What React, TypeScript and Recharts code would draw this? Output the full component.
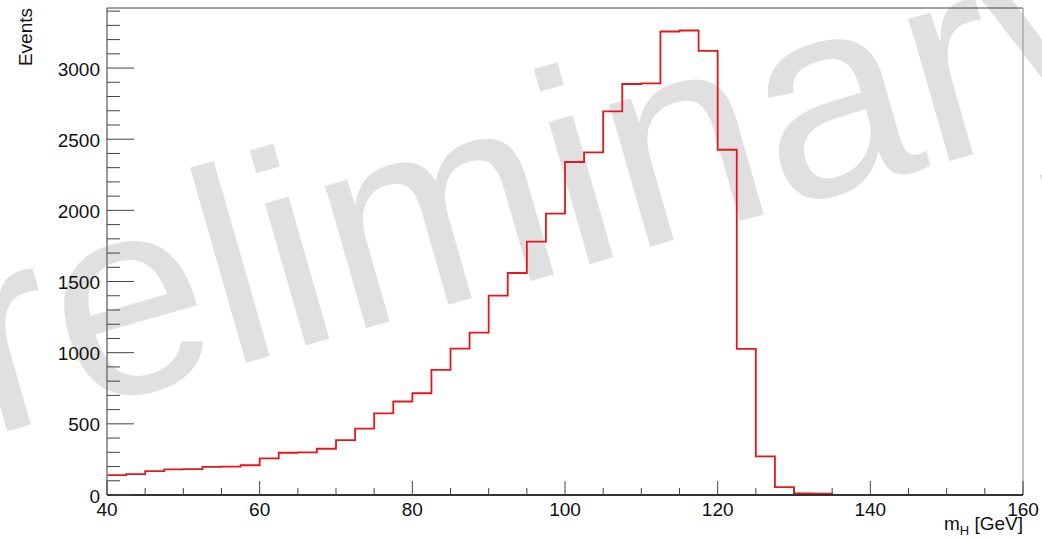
import React from 'react';
import { LineChart, Line, XAxis, YAxis, ReferenceLine } from 'recharts';

const binStarts = [
  40, 42.5, 45, 47.5, 50, 52.5, 55, 57.5, 60, 62.5, 65, 67.5,
  70, 72.5, 75, 77.5, 80, 82.5, 85, 87.5, 90, 92.5, 95, 97.5,
  100, 102.5, 105, 107.5, 110, 112.5, 115, 117.5, 120, 122.5, 125, 127.5,
  130, 132.5, 135, 137.5, 140, 142.5, 145, 147.5, 150, 152.5, 155, 157.5,
];
const histEnd = 160;
const counts = [
  139, 146, 168, 180, 182, 197, 199, 209, 257, 297, 299, 325,
  385, 467, 574, 657, 715, 879, 1029, 1141, 1401, 1560, 1780, 1977,
  2340, 2407, 2695, 2888, 2892, 3257, 3264, 3121, 2426, 1027, 272, 55,
  12, 10, 1, 0, 0, 0, 0, 0, 0, 0, 0, 0,
];
const xTicks = [40, 45, 50, 55, 60, 65, 70, 75, 80, 85, 90, 95, 100, 105, 110, 115, 120, 125, 130, 135, 140, 145, 150, 155, 160];
const xMajor = [40, 60, 80, 100, 120, 140, 160];
const yTicks = [
  0, 100, 200, 300, 400, 500, 600, 700, 800, 900, 1000, 1100, 1200, 1300, 1400, 1500, 1600, 1700,
  1800, 1900, 2000, 2100, 2200, 2300, 2400, 2500, 2600, 2700, 2800, 2900, 3000, 3100, 3200, 3300, 3400,
];
const yMajor = [0, 500, 1000, 1500, 2000, 2500, 3000];
const yMax = 3422;

const data = [
  ...binStarts.map((x, i) => ({ x, y: counts[i] })),
  { x: histEnd, y: counts[counts.length - 1] },
];

const FONT = '"Liberation Sans", Arial, Helvetica, sans-serif';

const YTick = (props: any) => {
  const { x, y, payload } = props;
  const v = payload.value;
  const major = yMajor.includes(v);
  return (
    <g>
      <line x1={x} x2={x + (major ? 27 : 13)} y1={y} y2={y} stroke="#444" strokeWidth={1} />
      {major && (
        <text x={x - 7} y={y + 7.5} textAnchor="end" fontFamily={FONT} fontSize={19} fill="#111">
          {v}
        </text>
      )}
    </g>
  );
};

const XTick = (props: any) => {
  const { x, y, payload } = props;
  const v = payload.value;
  const major = xMajor.includes(v);
  return (
    <g>
      <line x1={x} x2={x} y1={y} y2={y - (major ? 14 : 7)} stroke="#444" strokeWidth={1} />
      {major && (
        <text x={x} y={y + 21} textAnchor="middle" fontFamily={FONT} fontSize={19} fill="#111">
          {v}
        </text>
      )}
    </g>
  );
};

export default function App() {
  return (
    <div style={{ position: 'absolute', left: 0, top: 0, width: 1042, height: 539, background: '#fff' }}>
      <svg width={1042} height={539} style={{ position: 'absolute', left: 0, top: 0 }}>
        <text
          x={-191}
          y={488}
          transform="rotate(-16 -191 488)"
          fontFamily={FONT}
          fontSize={280}
          fill="#e0e0e0"
        >
          Preliminary
        </text>
      </svg>
      <div style={{ position: 'absolute', left: 0, top: 0 }}>
        <LineChart width={1042} height={539} data={data} margin={{ top: 8, right: 19, bottom: 0, left: 0 }}>
          <XAxis
            dataKey="x"
            type="number"
            domain={[40, 160]}
            ticks={xTicks}
            interval={0}
            height={44}
            tickSize={0}
            tickMargin={0}
            tickLine={false}
            tick={<XTick />}
            axisLine={{ stroke: '#333', strokeWidth: 2 }}
            allowDataOverflow
          />
          <YAxis
            type="number"
            domain={[0, yMax]}
            ticks={yTicks}
            interval={0}
            width={107}
            tickSize={0}
            tickMargin={0}
            tickLine={false}
            tick={<YTick />}
            axisLine={{ stroke: '#777', strokeWidth: 1.5 }}
            allowDataOverflow
          />
          <ReferenceLine y={yMax} stroke="#444" strokeWidth={1} />
          <ReferenceLine x={160} stroke="#aaa" strokeWidth={1.5} />
          <Line
            type="stepAfter"
            dataKey="y"
            stroke="#e8161b"
            strokeWidth={1.8}
            dot={false}
            activeDot={false}
            isAnimationActive={false}
          />
        </LineChart>
      </div>
      <svg width={1042} height={539} style={{ position: 'absolute', left: 0, top: 0, pointerEvents: 'none' }}>
        <text x={32} y={8} transform="rotate(-90 32 8)" textAnchor="end" fontFamily={FONT} fontSize={19} fill="#111">
          Events
        </text>
        <text x={1023} y={530} textAnchor="end" fontFamily={FONT} fontSize={19} fill="#111">
          m
          <tspan fontSize={13} dy={5}>H</tspan>
          <tspan dy={-5}> [GeV]</tspan>
        </text>
      </svg>
    </div>
  );
}
